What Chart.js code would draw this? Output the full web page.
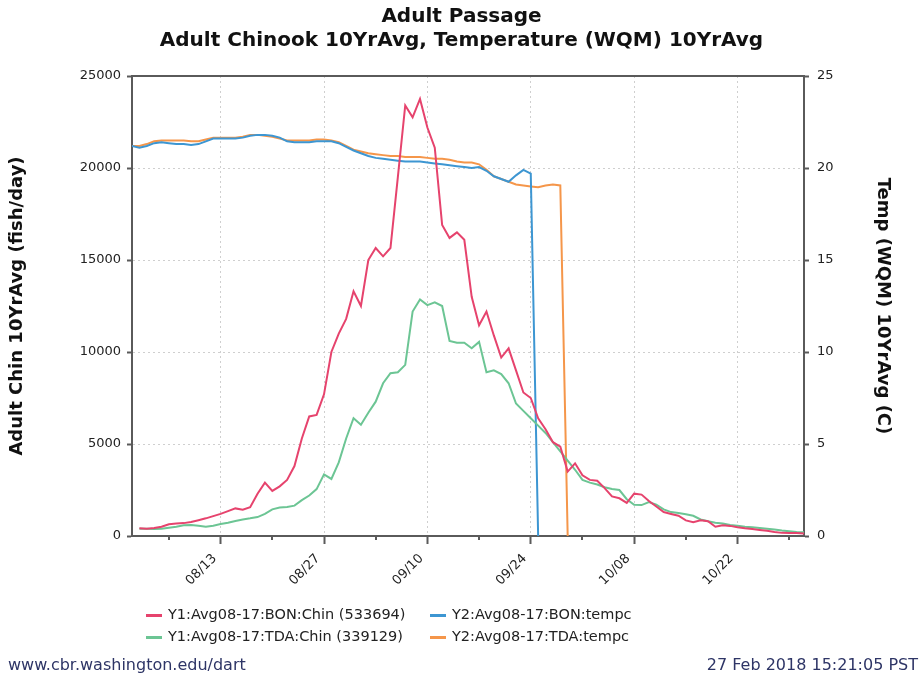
<!DOCTYPE html>
<html>
<head>
<meta charset="utf-8">
<title>Adult Passage</title>
<script src="https://cdn.jsdelivr.net/npm/chart.js@4.4.1/dist/chart.umd.min.js"></script>
<style>
    html, body { margin: 0; padding: 0; background: #fff; }
    #wrap { position: relative; width: 923px; height: 679px; font-family: "DejaVu Sans", sans-serif; }
    #chart { position: absolute; left: 0; top: 0; }
    .legend { position: absolute; font-size: 14.5px; color: #222; white-space: nowrap; }
    .legend span.sw { display: inline-block; width: 16px; height: 3px; vertical-align: middle; margin-right: 6px; }
    .foot { position: absolute; top: 655px; font-size: 16px; color: #2e3566; white-space: nowrap; }
</style>
</head>
<body>
<div id="wrap">
    <canvas id="chart" width="923" height="679"></canvas>
    <div class="legend" style="left:146px; top:606px;"><span class="sw" style="background:#e6436d"></span>Y1:Avg08-17:BON:Chin (533694)</div>
    <div class="legend" style="left:146px; top:628px;"><span class="sw" style="background:#6cc594"></span>Y1:Avg08-17:TDA:Chin (339129)</div>
    <div class="legend" style="left:430px; top:606px;"><span class="sw" style="background:#3d96d2"></span>Y2:Avg08-17:BON:tempc</div>
    <div class="legend" style="left:430px; top:628px;"><span class="sw" style="background:#f5964a"></span>Y2:Avg08-17:TDA:tempc</div>
    <div class="foot" style="left:8px;">www.cbr.washington.edu/dart</div>
    <div class="foot" style="right:5px;">27 Feb 2018 15:21:05 PST</div>
</div>
<script>
(function () {
    'use strict';

    // day 0 = 08/01, day 91 = 10/31
    var tickDays   = [5, 12, 19, 26, 33, 40, 47, 54, 61, 68, 75, 82, 89];
    var tickLabels = { 12: '08/13', 26: '08/27', 40: '09/10', 54: '09/24', 68: '10/08', 82: '10/22' };

    var bonChin = [null,
        420, 400, 430, 500, 640, 680, 700, 760, 860, 960,
        1080, 1200, 1350, 1500, 1430, 1560, 2300, 2900, 2450, 2700,
        3050, 3800, 5300, 6500, 6580, 7700, 10000, 11000, 11800, 13300,
        12500, 15000, 15650, 15200, 15650, 19500, 23400, 22750, 23750, 22200,
        21100, 16900, 16200, 16500, 16100, 13000, 11450, 12200, 10900, 9700,
        10200, 9000, 7800, 7500, 6400, 5800, 5100, 4850, 3500, 3950,
        3300, 3050, 3000, 2600, 2150, 2050, 1800, 2300, 2250, 1900,
        1600, 1300, 1200, 1100, 850, 750, 850, 800, 500, 580,
        550, 480, 420, 380, 330, 280, 220, 170, 160, 160,
        140];

    var tdaChin = [null,
        400, 400, 380, 400, 450, 500, 580, 600, 560, 500,
        560, 650, 720, 820, 900, 960, 1030, 1200, 1450, 1550,
        1580, 1650, 1950, 2200, 2550, 3350, 3100, 4000, 5300, 6400,
        6050, 6700, 7300, 8300, 8850, 8900, 9300, 12200, 12850, 12550,
        12700, 12500, 10600, 10500, 10500, 10200, 10550, 8900, 9000, 8800,
        8300, 7200, 6800, 6400, 6000, 5600, 5100, 4600, 4100, 3600,
        3050, 2900, 2800, 2650, 2550, 2500, 2000, 1700, 1680, 1850,
        1700, 1450, 1300, 1250, 1180, 1100, 900, 800, 720, 680,
        600, 560, 500, 470, 430, 390, 350, 300, 260, 220,
        200];

    var bonTemp = [
        21.2, 21.1, 21.2, 21.35, 21.4, 21.35, 21.3, 21.3, 21.25, 21.3,
        21.45, 21.6, 21.6, 21.6, 21.6, 21.65, 21.75, 21.8, 21.8, 21.75,
        21.65, 21.45, 21.4, 21.4, 21.4, 21.45, 21.45, 21.45, 21.35, 21.15,
        20.95, 20.8, 20.65, 20.55, 20.5, 20.45, 20.4, 20.35, 20.35, 20.35,
        20.3, 20.25, 20.2, 20.15, 20.1, 20.05, 20.0, 20.05, 19.85, 19.55,
        19.4, 19.25, 19.6, 19.9, 19.7, 0];

    var tdaTemp = [
        21.2, 21.2, 21.3, 21.45, 21.5, 21.5, 21.5, 21.5, 21.45, 21.45,
        21.55, 21.65, 21.65, 21.65, 21.65, 21.7, 21.8, 21.8, 21.75, 21.7,
        21.6, 21.5, 21.5, 21.5, 21.5, 21.55, 21.55, 21.5, 21.4, 21.2,
        21.0, 20.9, 20.8, 20.75, 20.7, 20.65, 20.65, 20.6, 20.6, 20.6,
        20.55, 20.5, 20.5, 20.45, 20.35, 20.3, 20.3, 20.2, 19.9, 19.55,
        19.4, 19.25, 19.1, 19.05, 19.0, 18.95, 19.05, 19.1, 19.05, 0];

    var days = [];
    for (var d = 0; d <= 91; d++) days.push(d);

    var axisColor = '#5a5a5a';
    var gridColor = '#cfcfcf';
    var tickFont = { family: 'DejaVu Sans', size: 13 };
    var titleFont = { family: 'DejaVu Sans', size: 18, weight: 'bold' };
    var headFont = { family: 'DejaVu Sans', size: 20, weight: 'bold' };

    function line(label, data, color, axis) {
        return {
            label: label, data: data, yAxisID: axis,
            borderColor: color, backgroundColor: color,
            borderWidth: 2, pointRadius: 0, tension: 0, spanGaps: false
        };
    }

    // top edge of the frame + short minor ticks on the date axis
    var frameBox = {
        id: 'frameBox',
        afterDraw: function (chart) {
            var a = chart.chartArea, ctx = chart.ctx, xs = chart.scales.x;
            ctx.save();
            ctx.strokeStyle = axisColor;
            ctx.lineWidth = 2;
            ctx.beginPath();
            ctx.moveTo(a.left, a.top);
            ctx.lineTo(a.right, a.top);
            tickDays.forEach(function (v) {
                if (tickLabels[v]) return;
                var px = Math.round(xs.getPixelForValue(v));
                ctx.moveTo(px, a.bottom);
                ctx.lineTo(px, a.bottom + 4);
            });
            ctx.stroke();
            ctx.restore();
        }
    };

    new Chart(document.getElementById('chart'), {
        type: 'line',
        data: {
            labels: days,
            datasets: [
                line('Y1:Avg08-17:BON:Chin (533694)', bonChin, '#e6436d', 'y'),
                line('Y1:Avg08-17:TDA:Chin (339129)', tdaChin, '#6cc594', 'y'),
                line('Y2:Avg08-17:BON:tempc', bonTemp, '#3d96d2', 'y1'),
                line('Y2:Avg08-17:TDA:tempc', tdaTemp, '#f5964a', 'y1')
            ]
        },
        options: {
            responsive: false,
            animation: false,
            devicePixelRatio: 1,
            layout: { padding: 0 },
            plugins: {
                legend: { display: false },
                tooltip: { enabled: false },
                title: {
                    display: true, text: 'Adult Passage', color: '#111',
                    font: headFont, padding: { top: 5, bottom: 0 }
                },
                subtitle: {
                    display: true, text: 'Adult Chinook 10YrAvg, Temperature (WQM) 10YrAvg', color: '#111',
                    font: headFont, padding: { top: 0, bottom: 23 }
                }
            },
            scales: {
                x: {
                    type: 'linear', min: 0, max: 91,
                    afterBuildTicks: function (scale) {
                        scale.ticks = tickDays.map(function (v) { return { value: v }; });
                    },
                    afterFit: function (scale) { scale.height = 143; },
                    ticks: {
                        autoSkip: false, minRotation: 45, maxRotation: 45,
                        color: '#222', font: tickFont, padding: 7, labelOffset: -6,
                        callback: function (v) { return tickLabels[v] || ''; }
                    },
                    grid: {
                        color: function (c) { return c.tick && tickLabels[c.tick.value] ? gridColor : 'rgba(0,0,0,0)'; },
                        tickColor: function (c) { return c.tick && tickLabels[c.tick.value] ? axisColor : 'rgba(0,0,0,0)'; },
                        tickLength: 8, tickWidth: 2
                    },
                    border: { color: axisColor, width: 2, dash: [2, 3] }
                },
                y: {
                    type: 'linear', position: 'left', min: 0, max: 25000,
                    afterFit: function (scale) { scale.width = 132; },
                    ticks: {
                        stepSize: 5000, color: '#222', font: tickFont, padding: 6,
                        callback: function (v) { return String(v); }
                    },
                    grid: { color: gridColor, tickColor: axisColor, tickLength: 5, tickWidth: 2 },
                    border: { color: axisColor, width: 2, dash: [2, 3] },
                    title: { display: true, text: 'Adult Chin 10YrAvg (fish/day)', color: '#111', font: titleFont, padding: { top: 7, bottom: 0 } }
                },
                y1: {
                    type: 'linear', position: 'right', min: 0, max: 25,
                    afterFit: function (scale) { scale.width = 119; },
                    ticks: { stepSize: 5, color: '#222', font: tickFont, padding: 8 },
                    grid: { drawOnChartArea: false, tickColor: axisColor, tickLength: 5, tickWidth: 2 },
                    border: { color: axisColor, width: 2 },
                    title: { display: true, text: 'Temp (WQM) 10YrAvg (C)', color: '#111', font: titleFont, padding: { top: 30, bottom: 0 } }
                }
            }
        },
        plugins: [frameBox]
    });
})();
</script>
</body>
</html>
